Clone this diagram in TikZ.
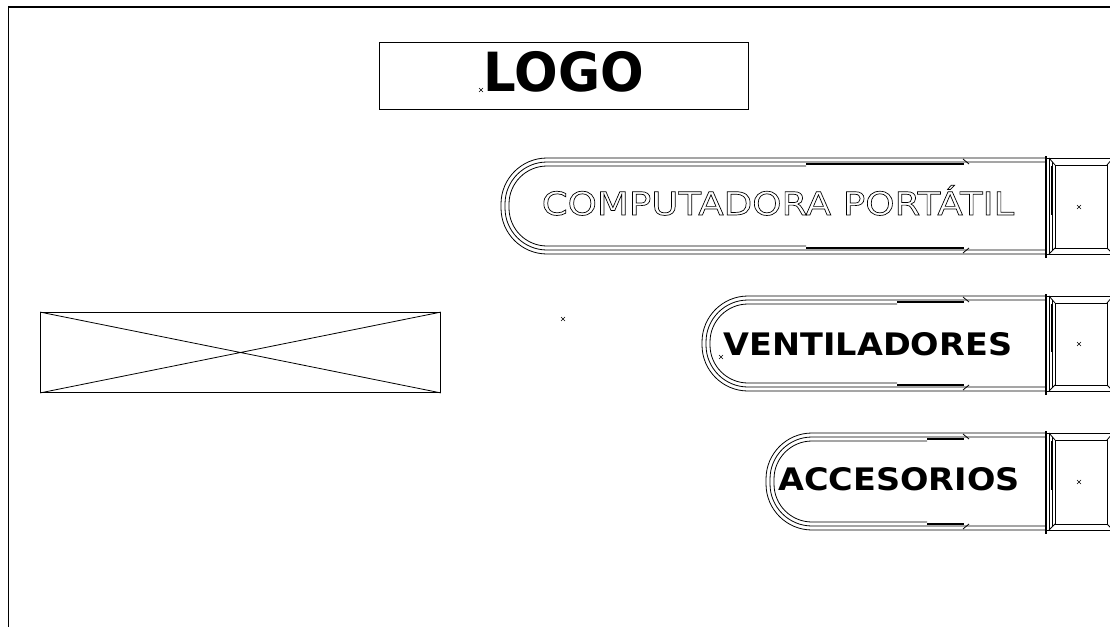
\documentclass[tikz,border=0pt]{standalone}
\usepackage{fontspec}
\setmainfont{DejaVu Sans}
\newfontfamily\logofont{DejaVu Sans}[FakeStretch=0.95]
\newfontfamily\menufont{DejaVu Sans}[FakeStretch=1.08]
\newfontfamily\hollowfont{DejaVu Sans}[FakeStretch=1.16]
\newcommand\hollow[1]{\special{pdf:literal direct 1 Tr 0.7 w}#1\special{pdf:literal direct 0 Tr}}
\usetikzlibrary{positioning,shapes.misc,calc}

\begin{document}
\begin{tikzpicture}[x=1pt,y=-1pt,line width=0.8pt,
   xm/.style={draw,cross out,minimum size=3.5pt,inner sep=0pt,line width=0.5pt},
   lbl/.style={anchor=base,inner sep=0pt,font=\menufont\bfseries\fontsize{31}{31}\selectfont}]
  \useasboundingbox (0,0) rectangle (1110,626);
  \fill[white] (0,0) rectangle (1110,626);
  \draw[line width=2pt] (8,7) -- (1112,7);
  \draw (8.5,6) -- (8.5,630);
  \node[draw,minimum width=369pt,minimum height=67pt,inner sep=0pt] (logobox) at (563.5,75.5) {};
  \node[anchor=base,inner sep=0pt,font=\logofont\bfseries\fontsize{54}{54}\selectfont]
     (logo) at (564,91.5) {LOGO};
  \node[draw,minimum width=400pt,minimum height=80pt,inner sep=0pt] (banner) at (240.5,352.5) {};
  \draw (banner.north west) -- (banner.south east) (banner.south west) -- (banner.north east);
  \foreach \T/\B/\L/\M/\C [count=\i] in {158/254/501/806/207,296/391/702/897/344,433/530/766/927/482}{
    \draw[rounded corners=46pt] (1046,\T) -- (\L,\T) -- (\L,\B) -- (1046,\B);
    \draw (1046,\T) -- (1113,\T) (1046,\B) -- (1113,\B);
    \draw[rounded corners=42pt] (1046,\T+4) -- (\L+4,\T+4) -- (\L+4,\B-4) -- (1046,\B-4);
    \draw[rounded corners=38pt] (\M,\T+8) -- (\L+8,\T+8) -- (\L+8,\B-8) -- (\M,\B-8);
    \draw[line width=1.6pt] (\M,\T+6) -- (964,\T+6) (\M,\B-6) -- (964,\B-6);
    \draw (963,\T+1) -- (969,\T+6) (963,\B-1) -- (969,\B-6);
    \draw[line width=1.4pt] (1046,\T-2) -- (1046,\B+4);
    \draw (1049,\T) -- (1049,\B+1) (1052,\T+4) -- (1052,\B-4);
    \draw[line width=1.6pt] (1052,\T+8) -- (1052,\C+8);
    \draw (1055,\T+7) rectangle (1107,\B-6);
    \draw (1049,\T) -- (1055,\T+7) (1049,\B) -- (1055,\B-6)
      (1107,\T+7) -- (1113,\T) (1107,\B-6) -- (1113,\B);
    \node[xm] (sq\i) at (1079,\C) {};
  }
  \node[lbl,font=\hollowfont\fontsize{32}{32}\selectfont] (portatil) at (778,215)
     {\hollow{COMPUTADORA PORTÁTIL}};
  \node[lbl] (ventiladores) at (868,355.5) {VENTILADORES};
  \node[lbl] (accesorios) at (899,490.5) {\addfontfeatures{FakeStretch=1.08}ACCESORIOS};
  \node[xm] (midmark) at (563,319) {};
  \node[xm] (logomark) at (481,90) {};
  \node[xm] (ventmark) at (721,357) {};
\end{tikzpicture}
\end{document}
